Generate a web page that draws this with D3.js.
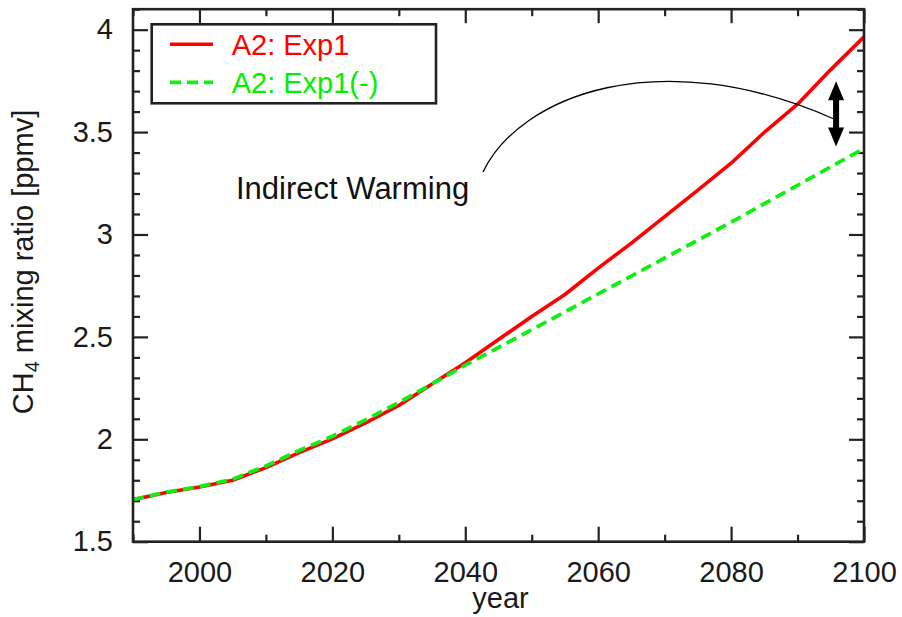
<!DOCTYPE html>
<html>
<head>
<meta charset="utf-8">
<script src="https://cdn.jsdelivr.net/npm/d3@7"></script>
<style>
  html, body { margin: 0; padding: 0; background: #fff; }
  svg { display: block; font-family: 'Liberation Sans', Arial, Helvetica, sans-serif; }
</style>
</head>
<body>
<svg id="chart" width="902" height="617"></svg>
<script>
// CH4 mixing ratio projections, A2 scenario
const years = [1990, 1995, 2000, 2005, 2010, 2015, 2020, 2025, 2030, 2035, 2040, 2045,
               2050, 2055, 2060, 2065, 2070, 2075, 2080, 2085, 2090, 2095, 2100];
const exp1 = [1.705, 1.740, 1.767, 1.800, 1.862, 1.935, 2.002, 2.080, 2.165, 2.270, 2.374, 2.487,
              2.600, 2.707, 2.836, 2.958, 3.087, 3.217, 3.348, 3.499, 3.636, 3.805, 3.965];
const exp1Minus = [1.705, 1.742, 1.769, 1.805, 1.870, 1.945, 2.015, 2.095, 2.180, 2.270, 2.362, 2.448,
                   2.535, 2.622, 2.710, 2.797, 2.885, 2.972, 3.060, 3.150, 3.240, 3.330, 3.420];

const seriesNames = ["A2: Exp1", "A2: Exp1(-)"];
const seriesColors = ["#ff0000", "#11ee11"];

const xMajorTicks = [2000, 2020, 2040, 2060, 2080, 2100];
const xMinorTicks = [1990, 2010, 2030, 2050, 2070, 2090];
const yMajorTicks = [1.5, 2, 2.5, 3, 3.5, 4];
const yMinorTicks = [1.6, 1.7, 1.8, 1.9, 2.1, 2.2, 2.3, 2.4, 2.6, 2.7, 2.8, 2.9,
                     3.1, 3.2, 3.3, 3.4, 3.6, 3.7, 3.8, 3.9, 4.1];

// annotation: leader curve as a cubic Bezier (start, two controls, end) in (year, value)
const leaderYears  = [2042.67, 2048.23, 2069.30, 2095.48];
const leaderValues = [3.305, 3.681, 3.940, 3.564];
const arrowYear = 2095.8;
const arrowRange = [3.43, 3.748];
const noteText = "Indirect Warming";
const notePos = [2005.5, 3.172];

const W = 902, H = 617;
const margin = { left: 133, right: 38, top: 9.2, bottom: 75.3 };
const svg = d3.select("#chart");

const x = d3.scaleLinear().domain([1990, 2100]).range([margin.left, W - margin.right]);
const y = d3.scaleLinear().domain([1.5, 4.1]).range([H - margin.bottom, margin.top]);

const axisColor = "#222";
const fontSize = 29;

// clip for data lines
svg.append("clipPath").attr("id", "plotClip")
  .append("rect")
  .attr("x", x.range()[0]).attr("y", y.range()[1])
  .attr("width", x.range()[1] - x.range()[0])
  .attr("height", y.range()[0] - y.range()[1]);

// ticks (inward on all four sides)
function styleAxis(g) {
  g.select(".domain").remove();
  g.selectAll(".tick line").attr("stroke", axisColor).attr("stroke-width", 2.2);
  g.selectAll("text").attr("fill", "#1a1a1a").attr("font-size", fontSize)
    .attr("font-family", "'Liberation Sans', Arial, Helvetica, sans-serif");
}
const yBottom = y.range()[0], yTop = y.range()[1];
const xLeft = x.range()[0], xRight = x.range()[1];

svg.append("g").attr("transform", `translate(0,${yBottom})`)
  .call(d3.axisBottom(x).tickValues(xMajorTicks).tickSize(-15).tickPadding(19.7).tickFormat(d3.format("d")))
  .call(styleAxis);
svg.append("g").attr("transform", `translate(0,${yBottom})`)
  .call(d3.axisBottom(x).tickValues(xMinorTicks).tickSize(-7).tickFormat(""))
  .call(styleAxis);
svg.append("g").attr("transform", `translate(0,${yTop})`)
  .call(d3.axisTop(x).tickValues(xMajorTicks).tickSize(-14).tickFormat(""))
  .call(styleAxis);
svg.append("g").attr("transform", `translate(0,${yTop})`)
  .call(d3.axisTop(x).tickValues(xMinorTicks).tickSize(-7).tickFormat(""))
  .call(styleAxis);

svg.append("g").attr("transform", `translate(${xLeft},0)`)
  .call(d3.axisLeft(y).tickValues(yMajorTicks).tickSize(-15).tickPadding(20).tickFormat(d3.format("")))
  .call(styleAxis);
svg.append("g").attr("transform", `translate(${xLeft},0)`)
  .call(d3.axisLeft(y).tickValues(yMinorTicks).tickSize(-7).tickFormat(""))
  .call(styleAxis);
svg.append("g").attr("transform", `translate(${xRight},0)`)
  .call(d3.axisRight(y).tickValues(yMajorTicks).tickSize(-15).tickFormat(""))
  .call(styleAxis);
svg.append("g").attr("transform", `translate(${xRight},0)`)
  .call(d3.axisRight(y).tickValues(yMinorTicks).tickSize(-7).tickFormat(""))
  .call(styleAxis);

// data lines
const line = d3.line().x(d => x(d[0])).y(d => y(d[1]));
const plot = svg.append("g").attr("clip-path", "url(#plotClip)");
plot.append("path")
  .datum(years.map((yr, i) => [yr, exp1[i]]))
  .attr("d", line).attr("fill", "none")
  .attr("stroke", seriesColors[0]).attr("stroke-width", 3.6)
  .attr("stroke-linejoin", "round");
plot.append("path")
  .datum(years.map((yr, i) => [yr, exp1Minus[i]]))
  .attr("d", line).attr("fill", "none")
  .attr("stroke", seriesColors[1]).attr("stroke-width", 3.8)
  .attr("stroke-dasharray", "11,6");

// frame
svg.append("rect")
  .attr("x", xLeft).attr("y", yTop)
  .attr("width", xRight - xLeft).attr("height", yBottom - yTop)
  .attr("fill", "none").attr("stroke", axisColor).attr("stroke-width", 2.6);

// annotation leader curve
{
  const pts = leaderYears.map((yr, i) => [x(yr), y(leaderValues[i])]);
  const p = d3.path();
  p.moveTo(pts[0][0], pts[0][1]);
  p.bezierCurveTo(pts[1][0], pts[1][1], pts[2][0], pts[2][1], pts[3][0], pts[3][1]);
  svg.append("path").attr("d", p.toString()).attr("fill", "none")
    .attr("stroke", "#000").attr("stroke-width", 1.3);
}

// double arrow
{
  const ax = x(arrowYear);
  const yT = y(arrowRange[1]), yB = y(arrowRange[0]);
  const head = 19, hw = 8, sw = 3;
  const p = [
    [ax, yT], [ax + hw, yT + head], [ax + sw, yT + head],
    [ax + sw, yB - head], [ax + hw, yB - head], [ax, yB],
    [ax - hw, yB - head], [ax - sw, yB - head], [ax - sw, yT + head],
    [ax - hw, yT + head]
  ];
  svg.append("path").attr("d", "M" + p.map(q => q.join(",")).join("L") + "Z").attr("fill", "#000");
}

svg.append("text")
  .attr("x", x(notePos[0])).attr("y", y(notePos[1]))
  .attr("font-size", 31).attr("fill", "#111").text(noteText);

// axis titles
svg.append("text")
  .attr("x", (xLeft + xRight) / 2 + 2).attr("y", 608)
  .attr("text-anchor", "middle").attr("font-size", fontSize).attr("fill", "#1a1a1a")
  .text("year");

const yl = svg.append("text")
  .attr("transform", `translate(33,262) rotate(-90)`)
  .attr("text-anchor", "middle").attr("font-size", fontSize).attr("fill", "#1a1a1a");
yl.append("tspan").text("CH");
yl.append("tspan").attr("font-size", 20).attr("dy", 6).text("4");
yl.append("tspan").attr("dy", -6).text(" mixing ratio [ppmv]");

// legend
const lg = svg.append("g");
lg.append("rect")
  .attr("x", 151.7).attr("y", 24.3).attr("width", 284.3).attr("height", 79)
  .attr("fill", "#fff").attr("stroke", axisColor).attr("stroke-width", 2.6);
const legendRows = [44.3, 82.3];
seriesNames.forEach((name, i) => {
  lg.append("line")
    .attr("x1", 170).attr("x2", 213).attr("y1", legendRows[i]).attr("y2", legendRows[i])
    .attr("stroke", seriesColors[i]).attr("stroke-width", i === 0 ? 3.6 : 3.8)
    .attr("stroke-dasharray", i === 0 ? null : "11,6");
  lg.append("text")
    .attr("x", 231.7).attr("y", legendRows[i] + 11)
    .attr("font-size", fontSize).attr("fill", i === 0 ? "#ff0000" : "#00f000")
    .text(name);
});
</script>
</body>
</html>
